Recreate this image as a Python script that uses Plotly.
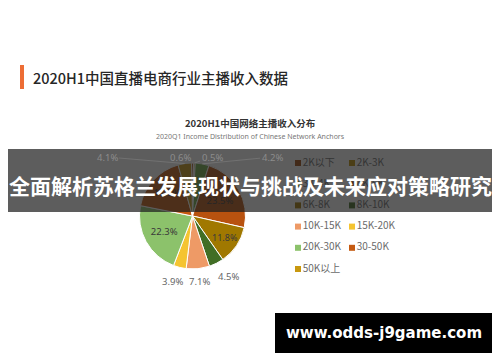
import math
import plotly.graph_objects as go

# ---- data ----
categories = ["2K以下", "2K-3K", "3K-4K", "4K-6K", "6K-8K", "8K-10K",
              "10K-15K", "15K-20K", "20K-30K", "30-50K", "50K以上"]
shares = [0.6, 0.5, 4.2, 23.5, 11.8, 4.5, 7.1, 3.9, 22.3, 17.5, 4.1]
colors = ["#9E480E", "#BF9000", "#70AD47", "#B8520F", "#A07800", "#416E25",
          "#EE9A66", "#F5C431", "#8CC26B", "#C55A11", "#C8980F"]
# big slices keep their label inside; small ones get an outside callout
label_pos = ["none", "none", "none", "inside", "inside", "none",
             "none", "none", "inside", "inside", "none"]
# callout label placement (pixels) and whether a leader line is drawn
callout_xy = {0: (180, 157, True), 1: (212, 157, True), 2: (272, 157, True),
              10: (107, 157, True), 5: (228, 276, False), 6: (199, 281, False),
              7: (172, 281, False)}

title_text = "2020H1中国直播电商行业主播收入数据"
chart_title = "2020H1中国网络主播收入分布"
chart_subtitle = "2020Q1 Income Distribution of Chinese Network Anchors"
banner_text = "全面解析苏格兰发展现状与挑战及未来应对策略研究"
url_text = "www.odds-j9game.com"

W, H = 500, 362
CJK = "Noto Sans CJK SC"
ROT = -1

fig = go.Figure()

# pie
cx, cy, r = 192.5, 216, 53
fig.add_trace(go.Pie(
    labels=categories, values=shares, sort=False, direction="clockwise", rotation=ROT,
    marker=dict(colors=colors, line=dict(color="white", width=1)),
    texttemplate="%{value:.1f}%", textposition=label_pos,
    textfont=dict(size=9.5, color="#595959", family="Noto Sans"),
    insidetextfont=dict(size=9.5, color="#3a3a3a", family="Noto Sans"),
    insidetextorientation="horizontal",
    domain=dict(x=[(cx - r) / W, (cx + r) / W], y=[1 - (cy + r) / H, 1 - (cy - r) / H]),
    showlegend=False, hoverinfo="label+percent",
))

# custom two-column legend
cols = [i % 2 for i in range(len(categories))]
rows = [i // 2 for i in range(len(categories))]
lx = [298 + 54 * c for c in cols]
ly = [163 + 21.2 * rr for rr in rows]
fig.add_trace(go.Scatter(
    x=lx, y=ly, mode="markers+text", text=categories, textposition="middle right",
    marker=dict(symbol="square", size=6, color=colors, line=dict(width=0)),
    textfont=dict(size=10, color="#6b6b6b", family=CJK),
    showlegend=False, cliponaxis=False, hoverinfo="text",
))

BANNER_Y0, BANNER_Y1 = 149, 212

annotations = []
total = sum(shares)
cum = 0.0
for i, v in enumerate(shares):
    mid = ROT + (cum + v / 2) / total * 360.0
    cum += v
    if i not in callout_xy:
        continue
    tx, ty, arrow = callout_xy[i]
    under_banner = BANNER_Y0 <= ty <= BANNER_Y1
    tcol = "#8c8c8c" if under_banner else "#666666"
    if arrow:
        px = cx + r * math.sin(math.radians(mid))
        py = cy - r * math.cos(math.radians(mid))
        annotations.append(dict(
            x=px, y=py, ax=tx, ay=ty, axref="x", ayref="y",
            text=f"{v:.1f}%", showarrow=True, arrowhead=0, arrowwidth=0.7,
            arrowcolor="#7a7a7a" if under_banner else "#a6a6a6", standoff=0, startstandoff=0,
            font=dict(size=9.5, color=tcol, family="Noto Sans"),
        ))
    else:
        annotations.append(dict(
            x=tx, y=ty, text=f"{v:.1f}%", showarrow=False, xanchor="center", yanchor="middle",
            font=dict(size=9.5, color=tcol, family="Noto Sans"),
        ))

shapes = [
    dict(type="rect", x0=20, x1=24, y0=65, y1=89, fillcolor="#ED6D35", line=dict(width=0), layer="above"),
    dict(type="rect", x0=8, x1=492, y0=BANNER_Y0, x2=None, y1=BANNER_Y1, fillcolor="rgba(30,30,30,0.72)",
         line=dict(width=0), layer="above"),
    dict(type="rect", x0=275, x1=492, y0=313, y1=353, fillcolor="#000000", line=dict(width=0), layer="above"),
]
for s in shapes:
    s.pop("x2", None)

annotations += [
    dict(x=31, y=77, text=title_text, showarrow=False, xanchor="left", yanchor="middle",
         font=dict(size=14.5, color="#262626", family=CJK, weight=500)),
    dict(x=250, y=123, text="<b>" + chart_title + "</b>", showarrow=False, xanchor="center", yanchor="middle",
         font=dict(size=9.5, color="#333333", family=CJK)),
    dict(x=250, y=136, text=chart_subtitle, showarrow=False, xanchor="center", yanchor="middle",
         font=dict(size=7, color="#777777", family="Noto Sans")),
    dict(x=250, y=185, text="<b>" + banner_text + "</b>", showarrow=False, xanchor="center", yanchor="middle",
         font=dict(size=21, color="#ffffff", family=CJK)),
    dict(x=383.5, y=333, text="<b>" + url_text + "</b>", showarrow=False, xanchor="center", yanchor="middle",
         font=dict(size=15, color="#ffffff", family="DejaVu Sans")),
]
for a in annotations:
    a["xref"] = "x"
    a["yref"] = "y"
for s in shapes:
    s["xref"] = "x"
    s["yref"] = "y"

fig.update_layout(
    width=W, height=H, margin=dict(l=0, r=0, t=0, b=0),
    paper_bgcolor="white", plot_bgcolor="white",
    xaxis=dict(range=[0, W], visible=False, domain=[0, 1], fixedrange=True),
    yaxis=dict(range=[H, 0], visible=False, domain=[0, 1], fixedrange=True),
    shapes=shapes, annotations=annotations, showlegend=False,
)

fig.write_html("out.html")
